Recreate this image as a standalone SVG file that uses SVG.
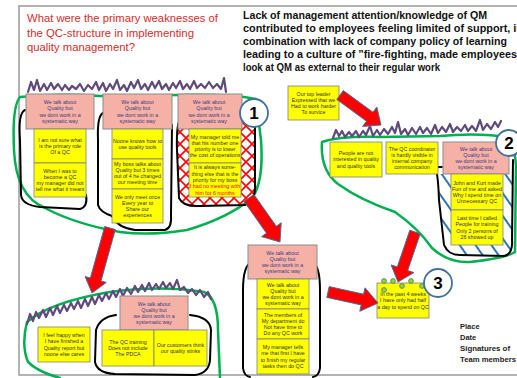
<svg xmlns="http://www.w3.org/2000/svg" width="517" height="378" viewBox="0 0 517 378">
<defs>
<style>
.pk{fill:#f6b1a6;stroke:#8c8c8c;stroke-width:1}
.yl{fill:#ffff00;stroke:#7f7f7f;stroke-width:0.8}
.tp{font-family:"Liberation Sans",Arial,sans-serif;font-size:5.3px;fill:#3e3a7e;text-anchor:middle}
.ty{font-family:"Liberation Sans",Arial,sans-serif;font-size:5.3px;fill:#333333;text-anchor:middle}
.tr{fill:#ff0000}
.grn{fill:none;stroke:#00b050;stroke-width:2.5;stroke-linejoin:round;stroke-linecap:round}
.blk{fill:none;stroke:#000;stroke-width:2;stroke-linejoin:round;stroke-linecap:round}
.pur{fill:none;stroke:#604a7b;stroke-width:2.2;stroke-linejoin:round;stroke-linecap:round}
.arr{fill:#ff0000;stroke:#41719c;stroke-width:1}
.circ{fill:#ffffff;stroke:#41719c;stroke-width:1.8}
.num{font-family:"Liberation Sans",Arial,sans-serif;font-weight:bold;font-size:17px;text-anchor:middle;fill:#000}
.title{font-family:"Liberation Sans",Arial,sans-serif;font-size:10.5px;fill:#d92b2b}
.head{font-family:"Liberation Sans",Arial,sans-serif;font-size:10px;font-weight:bold;fill:#111}
.foot{font-family:"Liberation Sans",Arial,sans-serif;font-size:7.5px;font-weight:bold;fill:#222}
.dot{fill:#92d050;stroke:#548235;stroke-width:0.8}
</style>
<pattern id="xh" width="12" height="12" patternUnits="userSpaceOnUse">
<path d="M0,0 L12,12 M12,0 L0,12" stroke="#ff0000" stroke-width="1.6"/>
</pattern>
<pattern id="bh" width="13" height="13" patternUnits="userSpaceOnUse" patternTransform="rotate(-35)">
<line x1="2" y1="0" x2="2" y2="13" stroke="#2e75b6" stroke-width="2"/>
</pattern>
</defs>
<rect x="0" y="0" width="517" height="378" fill="#ffffff"/>
<rect x="19" y="6" width="520" height="369" fill="none" stroke="#9a9a9a" stroke-width="1.5"/>

<g id="title">
<text class="title" x="27" y="22" textLength="191" lengthAdjust="spacingAndGlyphs">What were the primary weaknesses of</text>
<text class="title" x="27" y="37" textLength="167" lengthAdjust="spacingAndGlyphs">the QC-structure in implementing</text>
<text class="title" x="27" y="51" textLength="108" lengthAdjust="spacingAndGlyphs">quality management?</text>
</g>
<g id="conclusion">
<text class="head" x="243" y="19" textLength="244" lengthAdjust="spacingAndGlyphs">Lack of management attention/knowledge of QM</text>
<text class="head" x="243" y="32" textLength="280" lengthAdjust="spacingAndGlyphs">contributed to employees feeling limited of support, in</text>
<text class="head" x="243" y="45" textLength="264" lengthAdjust="spacingAndGlyphs">combination with lack of company policy of learning</text>
<text class="head" x="243" y="58" textLength="274" lengthAdjust="spacingAndGlyphs">leading to a culture of ”fire-fighting, made employees</text>
<text class="head" x="243" y="71" textLength="197" lengthAdjust="spacingAndGlyphs">look at QM as external to their regular work</text>
</g>

<g id="outlines">
<path class="grn" d="M20,97 Q60,93 100,96 L180,95 Q230,94 256,99 L261,140 Q264,182 252,198 Q228,218 187,230 Q150,236 120,232 Q75,224 45,208 Q16,196 14,150 Q12,106 20,97 Z"/>
<path class="grn" d="M322,142 Q340,136 380,137 L440,136 Q480,132 513,138 L516,165 L515,252 Q505,258 470,262 Q448,263 432,248 Q418,228 395,212 Q360,200 338,184 Q320,170 322,142 Z"/>
<path class="grn" d="M220,378 L218,330 Q218,298 204,292 Q160,285 110,292 Q50,302 27,322 Q21,345 28,362 Q38,372 60,378"/>
<path fill="url(#xh)" d="M182,117 Q176,120 177,150 L179,198 Q183,207 200,206 L245,205 Q256,200 255,185 L255,117 Z"/>
<path fill="url(#bh)" d="M437,174 L440,200 L444,245 Q448,255 460,255 L505,256 Q513,253 512,240 L513,174 Z"/>
<path class="blk" d="M25,110 Q18,113 20,140 L21,195 Q22,205 40,207 L80,209 Q88,207 86,195"/>
<path class="blk" d="M103,113 Q97,116 98,140 L98,205 Q100,212 112,216 Q118,228 135,230 L165,230 Q172,228 171,215 L172,125"/>
<path class="blk" d="M182,117 Q176,120 177,150 L179,198 Q183,207 200,206 L245,205 Q256,200 255,185 L255,127"/>
<path class="blk" d="M442,167 L435,167 Q438,172 439,200 L444,245 Q448,255 460,255 L505,256 Q513,253 512,240 L513,160"/>
<path class="blk" d="M252,262 Q243,265 243,290 L243,368 Q244,376 250,377"/>
<path class="blk" d="M312,262 Q320,265 320,290 L320,368 Q319,376 313,377"/>
<path class="blk" d="M116,315 Q100,317 96,330 L95,362 Q97,373 115,374 L195,375 Q209,373 210,360 L211,330 Q210,317 190,315"/>
<polyline class="pur" points="28,92 31,82 34,90 37,80 40,91 44,84 47,90 51,83 54,89 58,84 62,90 65,85 69,90 72,86 76,89 80,84 84,91 88,85 92,89 96,82 99,90 103,83 106,91 110,84 113,89 117,80 120,90 124,85 127,91 131,82 134,88 138,80 141,89 145,84 148,90 152,82 155,88 159,81 162,89 166,84 169,90 173,83 176,88 180,81 183,89 187,84 190,89 194,81 197,88 201,84 205,88 209,82 213,88 217,84 221,89 224,78 226,92"/>
<polyline class="pur" points="333,138 336,130 339,136 342,131 345,137 349,132 352,136 356,131 359,137 363,131 366,135 370,126 373,136 377,130 380,135 384,129 388,134 392,127 395,133 398,122 401,134 405,129 408,135 412,128 416,134 420,127 423,133 427,128 431,134 435,125 438,133 442,127 446,132 450,124 453,132 457,127 461,131 465,125 468,131 472,126 476,131 480,120 483,130 487,124 491,129 495,122 498,127 501,121"/>
<polyline class="pur" points="27,324 30,314 33,321 36,312 39,318 43,310 46,317 50,308 53,315 57,306 60,313 64,305 67,311 71,303 74,309 78,301 81,308 85,299 88,306 92,297 95,304 99,295 102,301 106,293 109,299 113,291 116,297 120,289 123,296 127,288 131,294 135,286 138,292 142,285 145,291 149,283 152,290 156,284 159,289 163,282 166,288 170,283 173,289 177,280 180,290 184,287 188,293 192,289 196,295 200,290 204,297 208,292 211,299"/>
</g>

<g id="p1"><rect class="pk" x="26" y="94" width="68" height="35"/>
<text class="tp" x="60" y="104"><tspan x="60">We talk about</tspan><tspan x="60" dy="6.3">Quality but</tspan><tspan x="60" dy="6.3">we dont work in a</tspan><tspan x="60" dy="6.3">systematic way</tspan></text></g>
<g id="y1a"><rect class="yl" x="34" y="129" width="52" height="34"/>
<text class="ty" x="60" y="141.6"><tspan x="60">I am not sure what</tspan><tspan x="60" dy="6.3">is the primary role</tspan><tspan x="60" dy="6.3">Of a QC</tspan></text></g>
<g id="y1b"><rect class="yl" x="34" y="163" width="52" height="34"/>
<text class="ty" x="60" y="172.5"><tspan x="60">When I was to</tspan><tspan x="60" dy="6.3">become a QC</tspan><tspan x="60" dy="6.3">my manager did not</tspan><tspan x="60" dy="6.3">tell me what it meant</tspan></text></g>

<g id="p2"><rect class="pk" x="103" y="94" width="69" height="35"/>
<text class="tp" x="137.5" y="104"><tspan x="137.5">We talk about</tspan><tspan x="137.5" dy="6.3">Quality but</tspan><tspan x="137.5" dy="6.3">we dont work in a</tspan><tspan x="137.5" dy="6.3">systematic way</tspan></text></g>
<g id="y2a"><rect class="yl" x="112" y="129" width="51" height="30"/>
<text class="ty" x="137.5" y="142.8"><tspan x="137.5">Noone knows how to</tspan><tspan x="137.5" dy="6.3">use quality tools</tspan></text></g>
<g id="y2b"><rect class="yl" x="112" y="159" width="51" height="30"/>
<text class="ty" x="137.5" y="165.5"><tspan x="137.5">My boss talks about</tspan><tspan x="137.5" dy="6.3">Quality but 3 times</tspan><tspan x="137.5" dy="6.3">out of 4 he changed</tspan><tspan x="137.5" dy="6.3">our meeting time</tspan></text></g>
<g id="y2c"><rect class="yl" x="112" y="189" width="51" height="34"/>
<text class="ty" x="137.5" y="198.5"><tspan x="137.5">We only meet once</tspan><tspan x="137.5" dy="6.3">Every year to</tspan><tspan x="137.5" dy="6.3">Share our</tspan><tspan x="137.5" dy="6.3">experiences</tspan></text></g>

<g id="p3"><rect class="pk" x="178" y="94" width="64" height="35"/>
<text class="tp" x="209" y="104"><tspan x="209">We talk about</tspan><tspan x="209" dy="6.3">Quality but</tspan><tspan x="209" dy="6.3">we dont work in a</tspan><tspan x="209" dy="6.3">systematic way</tspan></text></g>
<g id="y3a"><rect class="yl" x="189" y="129" width="52" height="34"/>
<text class="ty" x="215" y="138.5"><tspan x="215">My manager  told me</tspan><tspan x="215" dy="6.3">that his number one</tspan><tspan x="215" dy="6.3">priority is to lower</tspan><tspan x="215" dy="6.3">the cost of operations</tspan></text></g>
<g id="y3b"><rect class="yl" x="189" y="163" width="52" height="34"/>
<text class="ty" x="215" y="169.3"><tspan x="215">It is always some-</tspan><tspan x="215" dy="6.3">thing else that is the</tspan><tspan x="215" dy="6.3">priority for my boss</tspan><tspan x="215" dy="6.3" class="tr">I had no meeting with</tspan><tspan x="215" dy="6.3" class="tr">him for 6 months</tspan></text></g>
<g id="n1"><circle class="circ" cx="254" cy="113" r="14"/><text class="num" x="254" y="119">1</text></g>

<g id="leader"><rect class="yl" x="288" y="86" width="51" height="34"/>
<text class="ty" x="313.5" y="95.5"><tspan x="313.5">Our top leader</tspan><tspan x="313.5" dy="6.3">Expressed that we</tspan><tspan x="313.5" dy="6.3">Had to work harder</tspan><tspan x="313.5" dy="6.3">To survice</tspan></text></g>

<g id="r1"><rect class="yl" x="330" y="142" width="52" height="35"/>
<text class="ty" x="356" y="155.1"><tspan x="356">People are not</tspan><tspan x="356" dy="6.3">interested in quality</tspan><tspan x="356" dy="6.3">and quality tools</tspan></text></g>
<g id="r2"><rect class="yl" x="386" y="142" width="52" height="32"/>
<text class="ty" x="412" y="150.5"><tspan x="412">The QC coordinator</tspan><tspan x="412" dy="6.3">is hardly visible in</tspan><tspan x="412" dy="6.3">internal company</tspan><tspan x="412" dy="6.3">communication</tspan></text></g>
<g id="r3"><rect class="pk" x="443" y="142" width="66" height="32"/>
<text class="tp" x="476" y="150.5"><tspan x="476">We talk about</tspan><tspan x="476" dy="6.3">Quality but</tspan><tspan x="476" dy="6.3">we dont work in a</tspan><tspan x="476" dy="6.3">systematic way</tspan></text></g>
<g id="r4"><rect class="yl" x="451" y="174" width="52" height="36"/>
<text class="ty" x="477" y="184.5"><tspan x="477">John and Kurt made</tspan><tspan x="477" dy="6.3">Fun of me and asked</tspan><tspan x="477" dy="6.3">Why I spend time on</tspan><tspan x="477" dy="6.3">Unnecessary QC</tspan></text></g>
<g id="r5"><rect class="yl" x="451" y="210" width="52" height="35"/>
<text class="ty" x="477" y="220"><tspan x="477">Last time I called</tspan><tspan x="477" dy="6.3">People for training</tspan><tspan x="477" dy="6.3">Only 2 persons of</tspan><tspan x="477" dy="6.3">26 showed up</tspan></text></g>
<g id="n2"><circle class="circ" cx="509" cy="143" r="13"/><text class="num" x="509" y="149">2</text></g>

<g id="c1"><rect class="pk" x="248" y="245" width="69" height="34"/>
<text class="tp" x="282.5" y="254.5"><tspan x="282.5">We talk about</tspan><tspan x="282.5" dy="6.3">Quality but</tspan><tspan x="282.5" dy="6.3">we dont work in a</tspan><tspan x="282.5" dy="6.3">systematic way</tspan></text></g>
<g id="c2"><rect class="yl" x="257" y="279" width="52" height="30"/>
<text class="ty" x="283" y="286.5"><tspan x="283">We talk about</tspan><tspan x="283" dy="6.3">Quality but</tspan><tspan x="283" dy="6.3">we dont work in a</tspan><tspan x="283" dy="6.3">systematic way</tspan></text></g>
<g id="c3"><rect class="yl" x="257" y="309" width="52" height="30"/>
<text class="ty" x="283" y="316.5"><tspan x="283">The members of</tspan><tspan x="283" dy="6.3">My department do</tspan><tspan x="283" dy="6.3">Not have time to</tspan><tspan x="283" dy="6.3">Do any QC work</tspan></text></g>
<g id="c4"><rect class="yl" x="257" y="339" width="52" height="35"/>
<text class="ty" x="283" y="349"><tspan x="283">My manager tells</tspan><tspan x="283" dy="6.3">me that first I have</tspan><tspan x="283" dy="6.3">to finish my regular</tspan><tspan x="283" dy="6.3">tasks then do QC</tspan></text></g>

<g id="b1"><rect class="pk" x="120" y="296" width="68" height="34"/>
<text class="tp" x="154" y="305.5"><tspan x="154">We talk about</tspan><tspan x="154" dy="6.3">Quality but</tspan><tspan x="154" dy="6.3">we dont work in a</tspan><tspan x="154" dy="6.3">systematic way</tspan></text></g>
<g id="b2"><rect class="yl" x="38" y="327" width="52" height="35"/>
<text class="ty" x="64" y="337"><tspan x="64">I feel happy when</tspan><tspan x="64" dy="6.3">I have finished a</tspan><tspan x="64" dy="6.3">Quality report but</tspan><tspan x="64" dy="6.3">noone else cares</tspan></text></g>
<g id="b3"><rect class="yl" x="102" y="330" width="52" height="36"/>
<text class="ty" x="128" y="343.6"><tspan x="128">The QC training</tspan><tspan x="128" dy="6.3">Does not include</tspan><tspan x="128" dy="6.3">The PDCA</tspan></text></g>
<g id="b4"><rect class="yl" x="154" y="330" width="53" height="36"/>
<text class="ty" x="180.5" y="346.8"><tspan x="180.5">Our customers think</tspan><tspan x="180.5" dy="6.3">our quality stinks</tspan></text></g>

<g id="q3"><rect class="yl" x="377" y="283" width="52" height="35"/>
<circle class="dot" cx="384" cy="281" r="2.4"/><circle class="dot" cx="393" cy="281" r="2.4"/><circle class="dot" cx="402" cy="286" r="2.4"/><circle class="dot" cx="411" cy="281" r="2.4"/><circle class="dot" cx="422" cy="286" r="2.4"/><circle class="dot" cx="384" cy="290" r="2.4"/>
<text class="ty" x="403" y="296.1"><tspan x="403">In the past 4 weeks</tspan><tspan x="403" dy="6.3">I have only had half</tspan><tspan x="403" dy="6.3">a day to spend on QC</tspan></text></g>
<g id="n3"><circle class="circ" cx="438" cy="283" r="14"/><text class="num" x="438" y="289">3</text></g>

<g id="footer">
<text class="foot" x="460" y="329">Place</text>
<text class="foot" x="460" y="340">Date</text>
<text class="foot" x="460" y="351" textLength="50" lengthAdjust="spacingAndGlyphs">Signatures of</text>
<text class="foot" x="460" y="362" textLength="56" lengthAdjust="spacingAndGlyphs">Team members</text>
</g>

<g id="connectors">
<polygon class="arr" points="104.7,226.5 90.4,278.0 85.1,276.6 92,293 106.3,282.4 101.0,281.0 115.3,229.5"/>
<polygon class="arr" points="244.1,201.5 266.5,233.2 261.6,236.6 280,242 281.2,222.8 276.3,226.3 253.9,194.5"/>
<polygon class="arr" points="336.8,99.4 366.5,121.2 362.6,126.4 381,125 376.8,107.0 373.0,112.3 343.3,90.6"/>
<polygon class="arr" points="409.8,230.2 397.3,266.9 391.1,264.9 398,282 413.9,272.6 407.7,270.5 420.2,233.8"/>
<polygon class="arr" points="326.8,297.4 361.2,304.9 359.8,311.3 378,303 365.0,287.8 363.6,294.2 329.2,286.6"/>
</g>
</svg>
